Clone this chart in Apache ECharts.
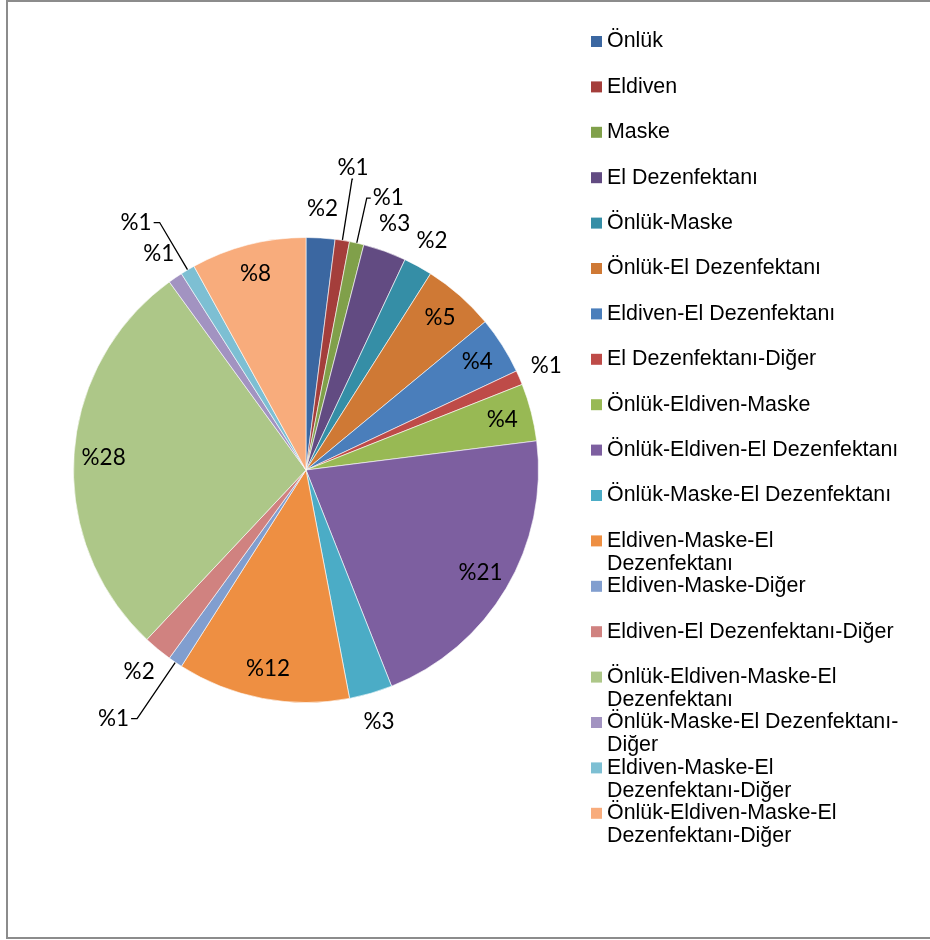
<!DOCTYPE html>
<html>
<head>
<meta charset="utf-8">
<script src="https://cdn.jsdelivr.net/npm/echarts@6/dist/echarts.min.js"></script>
<style>
  html, body { margin: 0; padding: 0; background: #ffffff; }
  #chart { width: 930px; height: 940px; }
</style>
</head>
<body>
<div id="chart"></div>
<script>
// Categories of protective equipment (in drawing order, clockwise from 12 o'clock)
const categories = [
  'Önlük',
  'Eldiven',
  'Maske',
  'El Dezenfektanı',
  'Önlük-Maske',
  'Önlük-El Dezenfektanı',
  'Eldiven-El Dezenfektanı',
  'El Dezenfektanı-Diğer',
  'Önlük-Eldiven-Maske',
  'Önlük-Eldiven-El Dezenfektanı',
  'Önlük-Maske-El Dezenfektanı',
  'Eldiven-Maske-El Dezenfektanı',
  'Eldiven-Maske-Diğer',
  'Eldiven-El Dezenfektanı-Diğer',
  'Önlük-Eldiven-Maske-El Dezenfektanı',
  'Önlük-Maske-El Dezenfektanı-Diğer',
  'Eldiven-Maske-El Dezenfektanı-Diğer',
  'Önlük-Eldiven-Maske-El Dezenfektanı-Diğer'
];

// Share of each category, in percent
const shares = [2, 1, 1, 3, 2, 5, 4, 1, 4, 21, 3, 12, 1, 2, 28, 1, 1, 8];

// Legend text with its line breaks
const legendLabels = [
  'Önlük',
  'Eldiven',
  'Maske',
  'El Dezenfektanı',
  'Önlük-Maske',
  'Önlük-El Dezenfektanı',
  'Eldiven-El Dezenfektanı',
  'El Dezenfektanı-Diğer',
  'Önlük-Eldiven-Maske',
  'Önlük-Eldiven-El Dezenfektanı',
  'Önlük-Maske-El Dezenfektanı',
  'Eldiven-Maske-El\nDezenfektanı',
  'Eldiven-Maske-Diğer',
  'Eldiven-El Dezenfektanı-Diğer',
  'Önlük-Eldiven-Maske-El\nDezenfektanı',
  'Önlük-Maske-El Dezenfektanı-\nDiğer',
  'Eldiven-Maske-El\nDezenfektanı-Diğer',
  'Önlük-Eldiven-Maske-El\nDezenfektanı-Diğer'
];

// Slice colours
const colors = [
  '#3b67a1', '#a43e3b', '#80a04a', '#624b82', '#358ea6', '#cf7935',
  '#4a7ebb', '#be4b48', '#98b954', '#7d5fa0', '#4bacc6', '#ee8f42',
  '#819ecf', '#d08280', '#adc788', '#a293c1', '#7dbfd3', '#f8ac7c'
];

// Slices whose value label sits at the end of a leader line
const callouts = {
  1:  { length: 62, length2: 1, gap: 0 },
  2:  { length: 46, length2: 4, gap: 2 },
  12: { length: 68, length2: 6, gap: 2 },
  16: { length: 55, length2: 6, gap: 2 }
};

const CENTER = [306, 470];
const R = 232.5;
const labelFont = { fontFamily: 'Lato', fontSize: 22.5, color: '#000000' };
const pctText = p => '%' + p.value;

const mainData = categories.map((name, i) => {
  const item = { name: name, value: shares[i], itemStyle: { color: colors[i] } };
  const c = callouts[i];
  if (c) {
    item.label = { show: true, position: 'outside', distanceToLabelLine: c.gap };
    item.labelLine = { show: true, length: c.length, length2: c.length2 };
  }
  return item;
});

// Transparent rings that only carry the value labels
const innerRingData = categories.map((name, i) => ({
  name: name, value: shares[i], label: { show: shares[i] >= 4 }
}));
const outerRingData = categories.map((name, i) => ({
  name: name, value: shares[i], label: { show: shares[i] < 4 && !callouts[i] }
}));

const ringBase = {
  type: 'pie',
  center: CENTER,
  startAngle: 90,
  clockwise: true,
  silent: true,
  avoidLabelOverlap: false,
  itemStyle: { color: 'rgba(0,0,0,0)', borderWidth: 0 },
  label: Object.assign({ position: 'inside', formatter: pctText }, labelFont),
  labelLine: { show: false },
  emphasis: { disabled: true },
  tooltip: { show: false }
};

const chart = echarts.init(document.getElementById('chart'), null, { renderer: 'canvas' });

chart.setOption({
  animation: false,
  backgroundColor: '#ffffff',
  graphic: [{
    type: 'rect',
    silent: true,
    shape: { x: 7, y: 1, width: 940, height: 937 },
    style: { fill: 'none', stroke: '#8c8c8c', lineWidth: 2 }
  }],
  legend: {
    orient: 'vertical',
    left: 591,
    top: 7,
    padding: 0,
    itemGap: -23.6,
    itemWidth: 11,
    itemHeight: 11,
    icon: 'rect',
    selectedMode: false,
    data: categories,
    itemStyle: { borderWidth: 0 },
    // Every entry is laid out as three lines (blank, first, second) so that
    // the marker lines up with the first line of text and the pitch stays even.
    formatter: name => {
      const t = legendLabels[categories.indexOf(name)];
      const lines = t.split('\n');
      return '\n' + lines[0] + '\n' + (lines[1] || ' ');
    },
    textStyle: {
      fontFamily: 'Liberation Sans',
      fontSize: 21.4,
      lineHeight: 23,
      color: '#000000'
    }
  },
  series: [
    {
      type: 'pie',
      center: CENTER,
      radius: R,
      startAngle: 90,
      clockwise: true,
      avoidLabelOverlap: false,
      itemStyle: { borderColor: '#ffffff', borderWidth: 0.6 },
      label: Object.assign({ show: false, formatter: pctText }, labelFont),
      labelLine: { show: false, lineStyle: { color: '#000000', width: 1.3 } },
      emphasis: { disabled: true },
      labelLayout: p => (p.dataIndex === 1 ? { align: 'center', verticalAlign: 'bottom' } : {}),
      data: mainData
    },
    Object.assign({}, ringBase, { radius: [167, R], data: innerRingData }),
    Object.assign({}, ringBase, { radius: [R, 285], data: outerRingData })
  ]
});
</script>
</body>
</html>
